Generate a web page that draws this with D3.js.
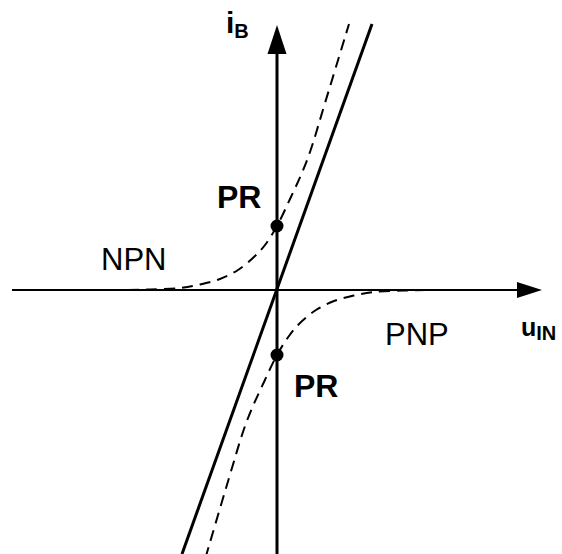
<!DOCTYPE html>
<html>
<head>
<meta charset="utf-8">
<script src="https://cdn.jsdelivr.net/npm/d3@7"></script>
<style>
  html, body { margin: 0; padding: 0; background: #fff; }
  svg { display: block; }
  text { font-family: "Liberation Sans", Arial, sans-serif; fill: #000; }
</style>
</head>
<body>
<svg id="chart" width="562" height="554"></svg>
<script>
// Input voltage range and base current range (arbitrary units)
const uRange = [-2.65, 2.65];
const iRange = [-2.64, 2.90];

// Linear (resistive) characteristic through the origin
const lineU = [-0.95, 0.95];
const lineI = [-2.64, 2.66];

// NPN branch of the base current characteristic
const npnU = [-1.49, -1.27, -0.97, -0.77, -0.57, -0.39, -0.22, -0.12, 0, 0.13, 0.24, 0.33, 0.48, 0.72];
const npnI = [0, 0.005, 0.02, 0.055, 0.11, 0.20, 0.34, 0.45, 0.64, 0.91, 1.15, 1.38, 1.87, 2.66];

// PNP branch of the base current characteristic
const pnpU = [1.49, 1.27, 0.97, 0.77, 0.57, 0.39, 0.22, 0.12, 0, -0.13, -0.24, -0.33, -0.48, -0.71];
const pnpI = [0, -0.005, -0.02, -0.055, -0.11, -0.20, -0.34, -0.46, -0.65, -0.92, -1.16, -1.39, -1.88, -2.66];

// Operating points on the current axis
const prU = [0, 0];
const prI = [0.64, -0.65];

const svg = d3.select("#chart");

const x = d3.scaleLinear().domain(uRange).range([12, 542]);
const y = d3.scaleLinear().domain(iRange).range([554, 0]);

const x0 = x(0), y0 = y(0);

// Horizontal axis (u_IN) with arrowhead
svg.append("line")
  .attr("x1", x(uRange[0])).attr("y1", y0)
  .attr("x2", x(uRange[1]) - 22).attr("y2", y0)
  .attr("stroke", "#000").attr("stroke-width", 2);
svg.append("path")
  .attr("d", `M${x(uRange[1])},${y0} L${x(uRange[1]) - 25},${y0 - 8} L${x(uRange[1]) - 25},${y0 + 8} Z`)
  .attr("fill", "#000");

// Vertical axis (i_B) with arrowhead
const iTop = 2.65;
svg.append("line")
  .attr("x1", x0).attr("y1", y(iRange[0]))
  .attr("x2", x0).attr("y2", y(iTop) + 25)
  .attr("stroke", "#000").attr("stroke-width", 3);
svg.append("path")
  .attr("d", `M${x0},${y(iTop)} L${x0 - 9.5},${y(iTop) + 29} L${x0 + 9.5},${y(iTop) + 29} Z`)
  .attr("fill", "#000");

// Dashed transistor characteristics
const curve = d3.line()
  .x(d => x(d[0]))
  .y(d => y(d[1]))
  .curve(d3.curveCatmullRom.alpha(0.5));

[[npnU, npnI], [pnpU, pnpI]].forEach(([us, is]) => {
  svg.append("path")
    .attr("d", curve(us.map((u, k) => [u, is[k]])))
    .attr("fill", "none")
    .attr("stroke", "#000")
    .attr("stroke-width", 2)
    .attr("stroke-dasharray", "11,7");
});

// Solid linear characteristic
svg.append("line")
  .attr("x1", x(lineU[0])).attr("y1", y(lineI[0]))
  .attr("x2", x(lineU[1])).attr("y2", y(lineI[1]))
  .attr("stroke", "#000").attr("stroke-width", 3);

// Operating point markers
svg.selectAll("circle.pr")
  .data(prU.map((u, k) => [u, prI[k]]))
  .join("circle")
  .attr("class", "pr")
  .attr("cx", d => x(d[0]))
  .attr("cy", d => y(d[1]))
  .attr("r", 6.5)
  .attr("fill", "#000");

// Labels
svg.append("text").attr("x", 217).attr("y", 208)
  .attr("font-size", 32).attr("font-weight", "bold").text("PR");
svg.append("text").attr("x", 294).attr("y", 397)
  .attr("font-size", 32).attr("font-weight", "bold").text("PR");

svg.append("text").attr("x", 101).attr("y", 270)
  .attr("font-size", 31).text("NPN");
svg.append("text").attr("x", 385).attr("y", 345)
  .attr("font-size", 31).text("PNP");

const iLabel = svg.append("text").attr("x", 226).attr("y", 33)
  .attr("font-weight", "bold");
iLabel.append("tspan").attr("font-size", 30).text("i");
iLabel.append("tspan").attr("font-size", 20).attr("dy", 5).text("B");

const uLabel = svg.append("text").attr("x", 521).attr("y", 336)
  .attr("font-weight", "bold");
uLabel.append("tspan").attr("font-size", 25).text("u");
uLabel.append("tspan").attr("font-size", 20).attr("dy", 4).text("IN");
</script>
</body>
</html>
